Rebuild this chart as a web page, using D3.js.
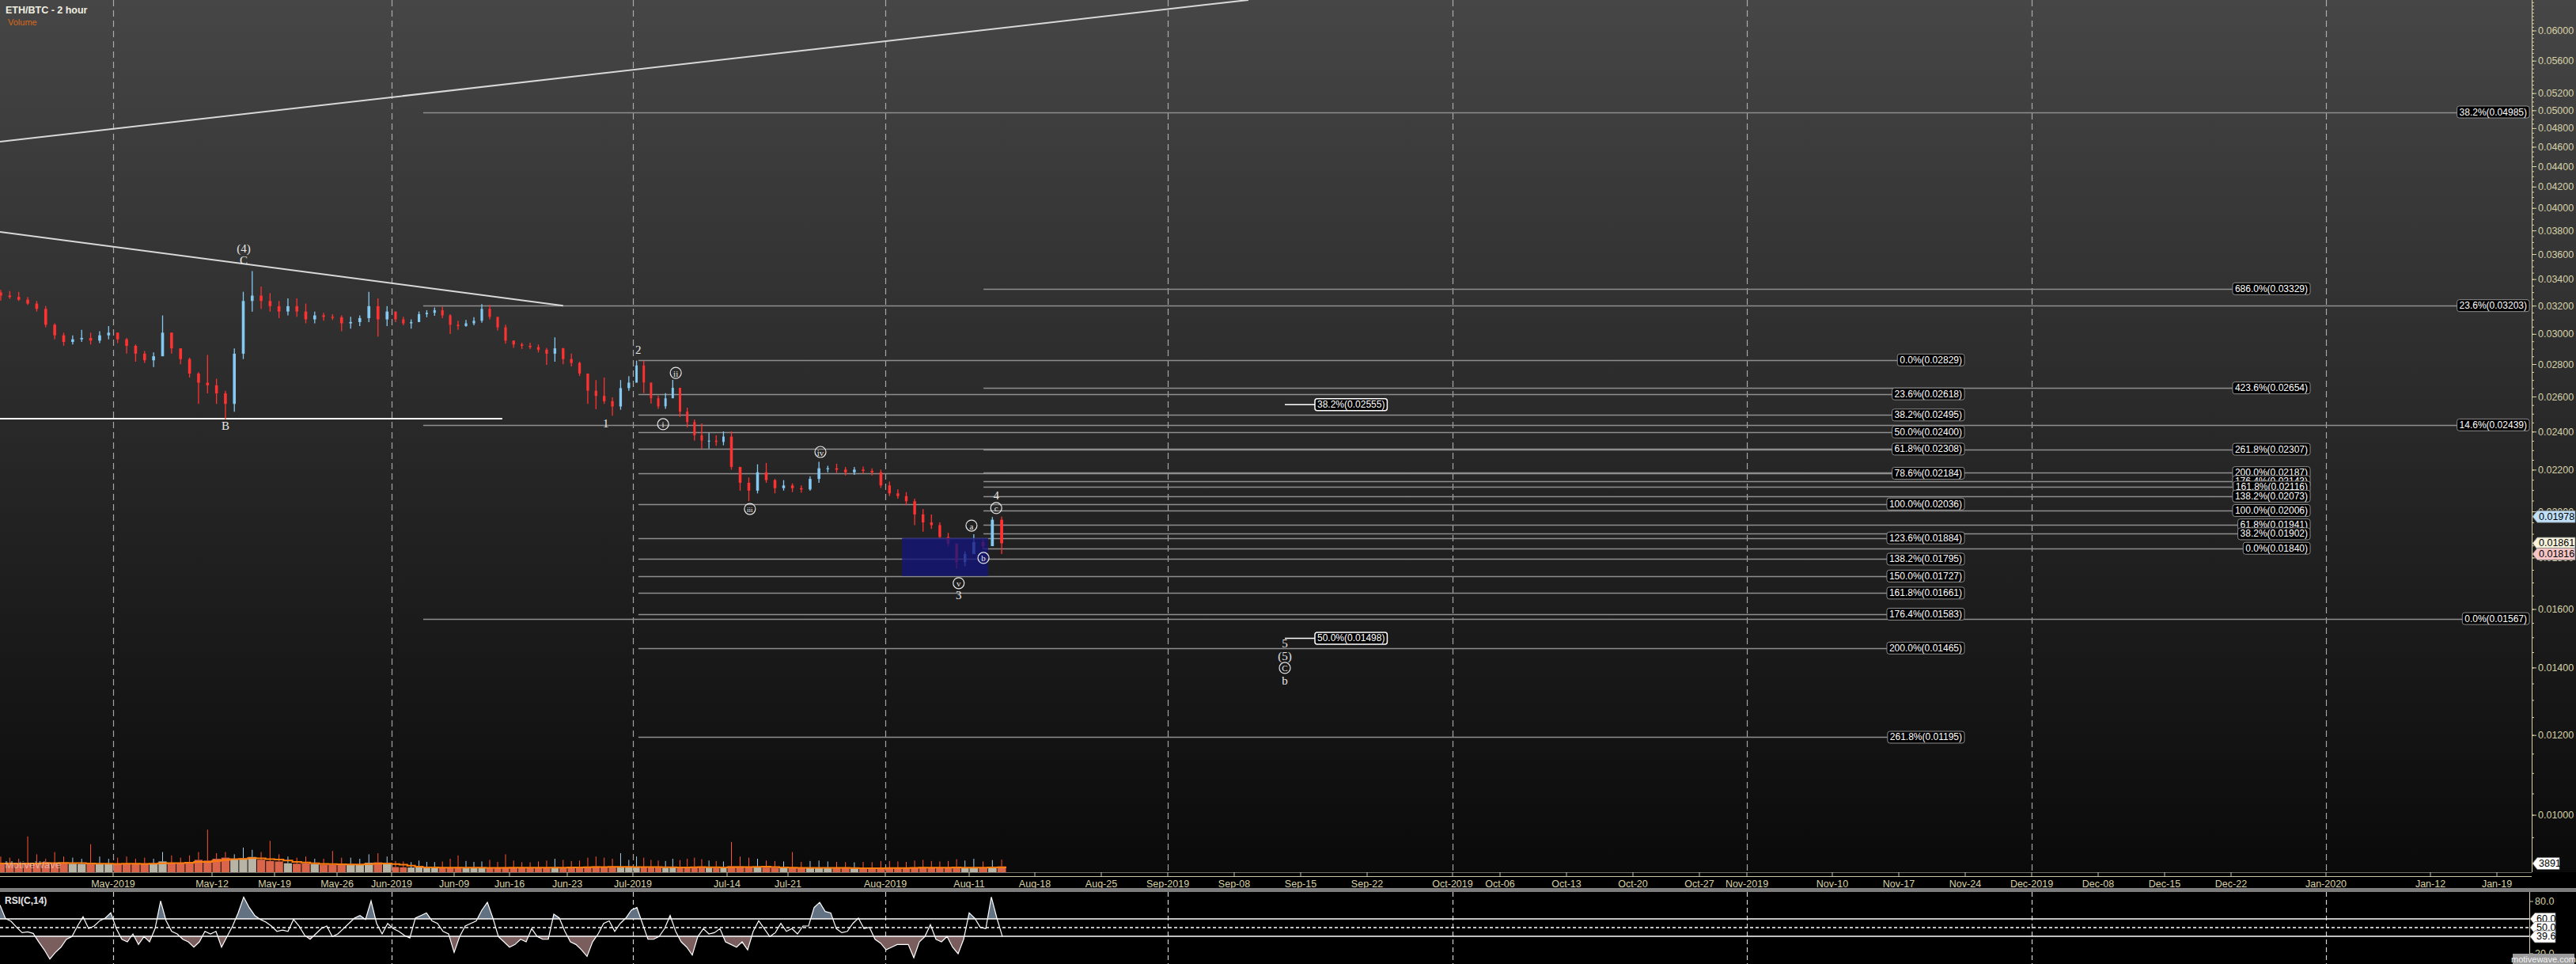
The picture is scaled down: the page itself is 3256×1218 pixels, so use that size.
<!DOCTYPE html>
<html>
<head>
<meta charset="utf-8">
<script src="https://cdn.jsdelivr.net/npm/d3@7/dist/d3.min.js"></script>
<style>
  html, body { margin:0; padding:0; background:#000; overflow:hidden; }
  svg { display:block; font-family: "Liberation Sans", Arial, sans-serif; }
</style>
</head>
<body>
<svg id="chart" width="3256" height="1218"></svg>
<script>
// ================= DATA =================
const chartTitle = "ETH/BTC - 2 hour";
const volumeTitle = "Volume";
const rsiTitle = "RSI(C,14)";

// daily bars (Apr 18 2019 .. Aug 14 2019)
const firstBarDay = "2019-04-18T00:00Z";
const barOpen0 = 0.03300;
const barHigh = [
  0.03320,0.03312,0.03306,0.03267,0.03237,0.03199,0.03076,0.03011,0.02993,0.03030,0.03011,0.03021,0.03057,
  0.03011,0.02975,0.02931,0.02887,0.02878,0.03132,0.03011,0.02905,0.02844,0.02751,0.02861,0.02710,0.02637,0.02905,0.03306,0.03466,0.03346,0.03296,0.03237,0.03257,0.03257,0.03218,0.03160,0.03151,0.03141,0.03132,0.03122,0.03132,0.03306,0.03257,0.03199,
  0.03160,0.03122,0.03104,0.03160,0.03170,0.03189,0.03195,0.03141,0.03094,0.03100,0.03119,0.03214,0.03208,0.03113,0.03066,0.02957,0.02943,0.02943,0.02931,0.02908,0.02979,0.02908,0.02870,0.02818,0.02743,0.02702,0.02718,0.02598,0.02702,0.02727,
  0.02825,0.02823,0.02631,0.02607,0.02623,0.02703,0.02599,0.02537,0.02470,0.02447,0.02396,0.02382,0.02403,0.02403,0.02202,0.02163,0.02229,0.02236,0.02156,0.02150,0.02134,0.02124,0.02169,0.02242,0.02222,0.02232,0.02216,0.02216,0.02218,0.02209,0.02202,
  0.02143,0.02105,0.02092,0.02061,0.02012,0.01988,0.01952,0.01906,0.01860,0.01827,0.01900,0.01877,0.01976,0.01978
];
const barLow = [
  0.03241,0.03253,0.03237,0.03208,0.03160,0.03048,0.02966,0.02922,0.02931,0.02948,0.02931,0.02940,0.02966,
  0.02940,0.02870,0.02818,0.02810,0.02784,0.02870,0.02870,0.02801,0.02718,0.02559,0.02621,0.02559,0.02471,0.02513,0.02835,0.03160,0.03179,0.03160,0.03113,0.03132,0.03122,0.03076,0.03076,0.03094,0.03100,0.03021,0.03039,0.03057,0.03085,0.02984,0.03057,
  0.03085,0.03063,0.03039,0.03085,0.03119,0.03130,0.03113,0.03002,0.03030,0.03052,0.03063,0.03081,0.03104,0.03026,0.02936,0.02908,0.02901,0.02901,0.02878,0.02798,0.02818,0.02801,0.02788,0.02727,0.02559,0.02528,0.02559,0.02491,0.02525,0.02637,
  0.02720,0.02623,0.02560,0.02530,0.02530,0.02615,0.02484,0.02425,0.02353,0.02311,0.02311,0.02325,0.02328,0.02202,0.02099,0.02049,0.02086,0.02137,0.02086,0.02099,0.02092,0.02089,0.02099,0.02137,0.02189,0.02186,0.02173,0.02176,0.02182,0.02173,0.02111,
  0.02073,0.02061,0.02030,0.01940,0.01911,0.01923,0.01883,0.01849,0.01757,0.01767,0.01844,0.01836,0.01849,0.01816
];
const barClose = [
  0.03277,0.03267,0.03247,0.03218,0.03179,0.03066,0.02993,0.02948,0.02966,0.02975,0.02957,0.02993,0.03011,
  0.02966,0.02922,0.02870,0.02827,0.02853,0.03011,0.02905,0.02835,0.02743,0.02686,0.02670,0.02621,0.02559,0.02870,0.03237,0.03277,0.03237,0.03199,0.03160,0.03199,0.03160,0.03104,0.03132,0.03122,0.03119,0.03076,0.03085,0.03113,0.03199,0.03104,0.03160,
  0.03104,0.03076,0.03085,0.03141,0.03151,0.03170,0.03132,0.03066,0.03057,0.03076,0.03094,0.03179,0.03122,0.03048,0.02957,0.02931,0.02922,0.02913,0.02896,0.02870,0.02905,0.02835,0.02810,0.02743,0.02637,0.02606,0.02575,0.02544,0.02653,0.02686,
  0.02794,0.02687,0.02592,0.02545,0.02592,0.02655,0.02514,0.02455,0.02382,0.02353,0.02353,0.02346,0.02375,0.02216,0.02137,0.02099,0.02189,0.02150,0.02111,0.02124,0.02111,0.02105,0.02156,0.02209,0.02209,0.02202,0.02189,0.02202,0.02196,0.02189,0.02124,
  0.02086,0.02073,0.02049,0.01988,0.01952,0.01940,0.01888,0.01860,0.01783,0.01816,0.01866,0.01849,0.01964,0.01861
];
// typical 2h volume per day and the largest 2h spike of that day
const volAvg = [
  3900,3800,3700,4200,3900,4500,4200,4000,3800,3700,3900,3800,3700,
  3600,3800,3900,3700,3800,4800,4200,4000,4300,5500,5200,6000,6500,5800,6200,6800,5600,5000,4800,4000,3800,3900,3600,3400,3300,3500,3600,3400,4200,4400,3800,
  2300,2200,2100,2200,2000,1900,2000,2100,2200,1900,1800,2000,1900,2000,2200,2100,2000,1900,2000,2100,2200,2100,2000,2100,2500,2600,2400,2300,2300,2200,
  2500,2400,2200,2100,2000,2200,2100,2300,2400,2300,2100,2000,1900,2700,2600,2500,2300,2100,2000,1900,1900,1800,2000,2100,1900,1800,1800,1700,1800,1800,1900,
  2000,1900,1800,2100,2200,2000,1900,2000,2300,2100,2000,1900,2100,2600
];
const volMax = [
  7000,6500,6000,16000,8000,6000,9000,7000,6500,6000,12500,7000,6000,
  6500,7000,6000,6500,6000,9000,7500,6500,7500,9000,19000,8500,9000,8000,11000,10000,9000,14000,8000,7000,6500,7000,6000,6000,9500,6500,6500,6000,8000,8500,7000,
  5000,4800,4500,5200,4600,4500,4800,6000,7500,5000,4600,4800,5500,4600,8000,5200,4500,4400,4800,5200,6000,5500,5000,5200,6500,7000,6500,6000,8500,5500,
  7000,6500,5500,5200,5000,6000,5400,6000,6500,5800,5200,5000,4800,13500,7000,6500,6000,5200,5000,4800,9000,4600,5000,5200,4800,4600,4500,4400,4600,4500,5000,
  5000,4800,4600,5200,5500,5000,4800,5000,5800,5200,6000,4800,5400,5600
];
const volLastValue = 3891;

// RSI(14), evenly spaced over the data span
const rsiStart = "2019-04-18T10:00Z";
const rsiEnd = "2019-08-14T14:00Z";
const rsiValues = [
  76.0,60.3,57.2,50.3,44.2,45.1,43.3,33.6,24.5,13.9,21.5,27.5,36.6,39.7,51.8,62.4,48.8,51.8,57.8,60.9,
  66.9,48.8,36.6,33.6,42.7,30.6,39.7,33.6,48.8,80.6,57.8,45.7,42.7,36.6,33.6,27.5,33.6,45.7,42.7,45.7,
  27.5,39.7,51.8,66.9,85.1,73.0,63.9,59.4,56.3,51.8,45.7,47.2,45.7,59.4,51.8,41.2,36.6,42.7,48.8,51.8,
  39.7,42.7,48.8,54.8,60.9,63.9,59.4,80.6,54.8,42.7,54.8,48.8,45.7,41.2,38.1,60.9,63.9,66.9,57.8,54.8,
  45.7,42.7,21.5,39.7,51.8,54.8,57.8,70.0,79.0,60.9,39.7,33.6,27.5,30.6,36.6,33.6,48.8,39.7,36.6,36.6,
  65.4,60.9,45.7,33.6,30.6,24.5,16.9,33.6,42.7,54.8,57.8,45.7,54.8,60.9,70.0,73.0,54.8,36.6,36.6,39.7,
  48.8,63.9,45.7,33.6,27.5,18.4,39.7,48.8,42.7,44.2,48.8,33.6,30.6,27.5,33.6,24.5,45.7,57.8,48.8,39.7,
  44.2,54.8,45.7,48.8,42.7,51.8,51.8,73.0,79.0,68.5,66.9,48.8,44.2,45.7,54.8,60.9,48.8,
  50.3,36.6,32.1,24.5,27.5,30.6,30.6,30.6,15.4,33.6,39.7,53.3,36.6,33.6,39.7,27.5,20.0,36.6,66.9,60.9,
  50.3,48.8,85.1,60.9,39.6
];
const rsiBandValues = [60, 50, 40];
const rsiBandLabels = ["60.0", "50.0", "39.6"];
const rsiTickValues = [80, 20];
const rsiTickLabels = ["80.0", "20.0"];

// axes
const priceTickValues = [0.06,0.056,0.052,0.05,0.048,0.046,0.044,0.042,0.04,0.038,0.036,0.034,0.032,0.03,0.028,0.026,0.024,0.022,0.02,0.018,0.016,0.014,0.012,0.01];
const currentPriceValues = [0.01978, 0.01861, 0.01816];
const currentPriceColors = ["#bfe0f8", "#f6f2dc", "#f6c6c6"];
const dateTickDates = ["2019-05-01","2019-05-12","2019-05-19","2019-05-26","2019-06-01","2019-06-09","2019-06-16","2019-06-23","2019-07-01","2019-07-14","2019-07-21","2019-08-01","2019-08-11","2019-08-18","2019-08-25","2019-09-01","2019-09-08","2019-09-15","2019-09-22","2019-10-01","2019-10-06","2019-10-13","2019-10-20","2019-10-27","2019-11-01","2019-11-10","2019-11-17","2019-11-24","2019-12-01","2019-12-08","2019-12-15","2019-12-22","2020-01-01","2020-01-12","2020-01-19"];
const dateTickLabels = ["May-2019","May-12","May-19","May-26","Jun-2019","Jun-09","Jun-16","Jun-23","Jul-2019","Jul-14","Jul-21","Aug-2019","Aug-11","Aug-18","Aug-25","Sep-2019","Sep-08","Sep-15","Sep-22","Oct-2019","Oct-06","Oct-13","Oct-20","Oct-27","Nov-2019","Nov-10","Nov-17","Nov-24","Dec-2019","Dec-08","Dec-15","Dec-22","Jan-2020","Jan-12","Jan-19"];
const monthStarts = ["2019-05-01","2019-06-01","2019-07-01","2019-08-01","2019-09-01","2019-10-01","2019-11-01","2019-12-01","2020-01-01"];

// bar-index calibration of the time axis (dates with data gaps before the last bar)
const axisDates = ["2019-04-18T10:00Z","2019-05-01T00:00Z","2019-05-12T00:00Z","2019-05-19T00:00Z","2019-05-26T00:00Z","2019-06-01T00:00Z","2019-06-09T00:00Z","2019-06-16T00:00Z","2019-06-23T00:00Z","2019-07-01T00:00Z","2019-07-14T00:00Z","2019-07-21T00:00Z","2019-08-01T00:00Z","2019-08-11T00:00Z","2019-08-14T16:00Z","2020-01-19T00:00Z"];
const axisPx = [0,143,268,347,426,495,574,644,717,800,919,996,1119,1225,1268,3156];

// Fibonacci sets
const fibAPct = ["0.0%","23.6%","38.2%","50.0%","61.8%","78.6%","100.0%","123.6%","138.2%","150.0%","161.8%","176.4%","200.0%","261.8%"];
const fibAPrice = [0.02829,0.02618,0.02495,0.02400,0.02308,0.02184,0.02036,0.01884,0.01795,0.01727,0.01661,0.01583,0.01465,0.01195];
const fibASpan = ["2019-07-01T18:00Z","2019-11-23T22:00Z"];
const fibBPct = ["686.0%","423.6%","261.8%","200.0%","176.4%","161.8%","138.2%","100.0%","61.8%","38.2%","0.0%"];
const fibBPrice = [0.03329,0.02654,0.02307,0.02187,0.02143,0.02116,0.02073,0.02006,0.01941,0.01902,0.01840];
const fibBSpan = ["2019-08-12T13:00Z","2019-12-30T08:00Z"];
const fibCPct = ["38.2%","23.6%","14.6%","0.0%"];
const fibCPrice = [0.04985,0.03203,0.02439,0.01567];
const fibCSpan = ["2019-06-05T01:00Z","2020-01-22T10:00Z"];
const fibDPct = ["38.2%","50.0%"];
const fibDPrice = [0.02555,0.01498];
const fibDSpan = ["2019-09-13T08:00Z","2019-09-16T12:00Z"];

// drawn lines
const trendDown = [["2019-04-18T10:00Z",0.03790],["2019-06-22T12:00Z",0.03203]];
const trendUp = [["2019-04-18T10:00Z",0.04658],["2019-09-09T12:00Z",0.06439]];
const levelB = [["2019-04-18T10:00Z",0.02474],["2019-06-15T02:00Z",0.02474]];
const zoneBox = [["2019-08-03T00:00Z",0.01884],["2019-08-13T01:00Z",0.01727]];

// wave labels
const waveLabels = [
  ["(4)","2019-05-15T13:00Z",0.03649],["C","2019-05-15T13:00Z",0.03551],["B","2019-05-13T12:00Z",0.02434],
  ["1","2019-06-27T17:00Z",0.02447],["2","2019-07-01T18:00Z",0.02895],["3","2019-08-09T18:00Z",0.01652],
  ["4","2019-08-13T22:00Z",0.02075],["5","2019-09-13T08:00Z",0.01480],["(5)","2019-09-13T08:00Z",0.01438],
  ["b","2019-09-13T08:00Z",0.01360]
];
const circledLabels = [
  ["i","2019-07-05T04:00Z",0.02443],["ii","2019-07-06T22:00Z",0.02747],["iii","2019-07-16T15:00Z",0.02013],
  ["iv","2019-07-24T16:00Z",0.02293],["v","2019-08-09T18:00Z",0.01699],["a","2019-08-11T06:00Z",0.01938],
  ["b","2019-08-12T13:00Z",0.01800],["c","2019-08-13T22:00Z",0.02017],["C","2019-09-13T08:00Z",0.01400]
];

// ================= LAYOUT =================
const W = 3256, H = 1218;
const AX = 3200;          // price axis x
const PB = 1102;          // price panel bottom (volume baseline)
const DATE_AXIS = 1107;
const SEP_TOP = 1122, RT = 1127, RB = 1218;
const RSI_AX = 3197;
const P = d3.isoParse;
const tan = "#d6d1a8";

const x = d3.scaleUtc().domain(axisDates.map(P)).range(axisPx);
const y = d3.scaleLog().domain([0.06, 0.01]).range([39, 1030]);
const vy = d3.scaleLinear().domain([0, volLastValue]).range([PB, 1091]);
const ry = d3.scaleLinear().domain([20, 80]).range([1205, 1139]);
const rx = d3.scaleLinear().domain([0, rsiValues.length - 1]).range([x(P(rsiStart)), x(P(rsiEnd))]);

const svg = d3.select("#chart");
const defs = svg.append("defs");
const grad = defs.append("linearGradient").attr("id","bg").attr("x1",0).attr("y1",0).attr("x2",0).attr("y2",1);
grad.append("stop").attr("offset","0%").attr("stop-color","#464646");
grad.append("stop").attr("offset","100%").attr("stop-color","#0a0a0a");
defs.append("clipPath").attr("id","plotClip").append("rect").attr("x",0).attr("y",0).attr("width",AX).attr("height",PB);
defs.append("clipPath").attr("id","rsiUp").append("rect").attr("x",0).attr("y",RT).attr("width",RSI_AX).attr("height",ry(60)-RT);
defs.append("clipPath").attr("id","rsiDn").append("rect").attr("x",0).attr("y",ry(40)).attr("width",RSI_AX).attr("height",RB-ry(40));
defs.append("clipPath").attr("id","rsiClip").append("rect").attr("x",0).attr("y",RT).attr("width",RSI_AX).attr("height",RB-RT);

svg.append("rect").attr("x",0).attr("y",0).attr("width",W).attr("height",PB).attr("fill","url(#bg)");
svg.append("rect").attr("x",0).attr("y",PB).attr("width",W).attr("height",H-PB).attr("fill","#000");

const plot = svg.append("g").attr("clip-path","url(#plotClip)");

// month dashed lines
monthStarts.forEach(m => {
  const mx = Math.round(x(P(m + "T00:00Z"))) + 0.5;
  plot.append("line").attr("x1",mx).attr("x2",mx).attr("y1",0).attr("y2",PB)
    .attr("stroke","#bdbdbd").attr("stroke-width",1.2).attr("stroke-dasharray","8,5").attr("opacity",0.85);
  svg.append("line").attr("x1",mx).attr("x2",mx).attr("y1",RT).attr("y2",RB)
    .attr("stroke","#cfcfcf").attr("stroke-width",1.2).attr("stroke-dasharray","6,4");
});

// fib lines
function fibLines(prices, span, color, width) {
  prices.forEach(p => {
    const yy = Math.round(y(p)) + 0.5;
    plot.append("line").attr("x1",x(P(span[0]))).attr("x2",x(P(span[1]))).attr("y1",yy).attr("y2",yy)
      .attr("stroke",color).attr("stroke-width",width);
  });
}
fibLines(fibCPrice, fibCSpan, "#8e8e8e", 1.3);
fibLines(fibAPrice, fibASpan, "#8e8e8e", 1.3);
fibLines(fibBPrice, fibBSpan, "#8e8e8e", 1.3);
fibDPrice.forEach(p => {
  plot.append("line").attr("x1",x(P(fibDSpan[0]))).attr("x2",x(P(fibDSpan[1]))).attr("y1",y(p)).attr("y2",y(p))
    .attr("stroke","#ffffff").attr("stroke-width",1.5);
});

// trend lines
[trendDown, trendUp].forEach(t => {
  plot.append("line").attr("x1",x(P(t[0][0]))).attr("y1",y(t[0][1])).attr("x2",x(P(t[1][0]))).attr("y2",y(t[1][1]))
    .attr("stroke","#d8d8d8").attr("stroke-width",2);
});
plot.append("line").attr("x1",x(P(levelB[0][0]))).attr("y1",y(levelB[0][1])).attr("x2",x(P(levelB[1][0]))).attr("y2",y(levelB[1][1]))
  .attr("stroke","#ffffff").attr("stroke-width",2);

// bars
const d0 = P(firstBarDay);
const bars = barClose.map((c, i) => {
  const day = d3.utcDay.offset(d0, i);
  return { day, o: i ? barClose[i-1] : barOpen0, h: barHigh[i], l: barLow[i], c, va: volAvg[i], vm: volMax[i] };
});
const UP = "#84c9f2", DOWN = "#ff3131";

// volume
const volG = plot.append("g");
bars.forEach(b => {
  const x0 = x(b.day), x1 = x(d3.utcDay.offset(b.day, 1)), cx = (x0 + x1) / 2;
  const up = b.c >= b.o;
  volG.append("rect").attr("x",x0+0.5).attr("y",vy(b.va)).attr("width",Math.max(1,x1-x0-1)).attr("height",PB-vy(b.va))
    .attr("fill", up ? "#b8b5a7" : "#d9654a");
  volG.append("line").attr("x1",cx).attr("x2",cx).attr("y1",vy(b.vm)).attr("y2",vy(b.va))
    .attr("stroke", up ? "#a6cde8" : "#ff5436").attr("stroke-width",1);
});
const ma = volAvg.map((v, i) => d3.mean(volAvg.slice(Math.max(0, i - 4), i + 1)));
const maPts = [];
bars.forEach((b, i) => { maPts.push([x(b.day), vy(ma[i])]); maPts.push([x(d3.utcDay.offset(b.day,1)), vy(ma[i])]); });
volG.append("path").attr("d", d3.line()(maPts)).attr("fill","none").attr("stroke","#ff7d0a").attr("stroke-width",2);
volG.append("text").attr("x",6).attr("y",1097).text("MotiveWave").attr("font-size",13).attr("fill","#ffffff").attr("opacity",0.45);

// candles (thin bars, like the source's dense 2h bars)
const candleG = plot.append("g");
bars.forEach(b => {
  const x0 = x(b.day), x1 = x(d3.utcDay.offset(b.day, 1)), cx = (x0 + x1) / 2;
  const up = b.c >= b.o;
  const col = up ? UP : DOWN;
  const bw = Math.max(2, (x1 - x0) * 0.32);
  candleG.append("line").attr("x1",cx).attr("x2",cx).attr("y1",y(b.h)).attr("y2",y(b.l)).attr("stroke",col).attr("stroke-width",1.3);
  const top = y(Math.max(b.o, b.c)), bot = y(Math.min(b.o, b.c));
  candleG.append("rect").attr("x",cx - bw/2).attr("y",top).attr("width",bw).attr("height",Math.max(1.2, bot - top)).attr("fill",col);
});

// zone box
plot.append("rect").attr("x",x(P(zoneBox[0][0]))).attr("y",y(zoneBox[0][1]))
  .attr("width",x(P(zoneBox[1][0])) - x(P(zoneBox[0][0]))).attr("height",y(zoneBox[1][1]) - y(zoneBox[0][1]))
  .attr("fill","#15157c").attr("opacity",0.78);

// label boxes
function labelBox(parent, txt, xPos, yPos, o) {
  const g = parent.append("g");
  const rect = g.append("rect");
  const t = g.append("text").text(txt).attr("font-size", o.size || 12).attr("fill", o.color || "#ffffff")
    .attr("dominant-baseline","central").attr("y", yPos);
  const w = t.node().getComputedTextLength();
  const pad = 3, bw = w + 2*pad, bh = 15;
  const bx = o.anchor === "end" ? xPos - bw : xPos;
  t.attr("x", bx + pad);
  rect.attr("x",bx).attr("y",yPos - bh/2).attr("width",bw).attr("height",bh).attr("rx",3)
    .attr("fill", o.fill || "#000").attr("stroke", o.stroke || "#8c8c8c").attr("stroke-width", o.sw || 1);
}
const labG = svg.append("g");
fibAPct.forEach((p, i) => labelBox(labG, `${p}(${fibAPrice[i].toFixed(5)})`, x(P(fibASpan[1])), y(fibAPrice[i]), {anchor:"end"}));
fibBPct.forEach((p, i) => labelBox(labG, `${p}(${fibBPrice[i].toFixed(5)})`, x(P(fibBSpan[1])), y(fibBPrice[i]), {anchor:"end"}));
fibCPct.forEach((p, i) => labelBox(labG, `${p}(${fibCPrice[i].toFixed(5)})`, RSI_AX, y(fibCPrice[i]), {anchor:"end"}));
fibDPct.forEach((p, i) => labelBox(labG, `${p}(${fibDPrice[i].toFixed(5)})`, x(P(fibDSpan[1])), y(fibDPrice[i]), {anchor:"start", stroke:"#ffffff", sw:1.5}));

// wave labels
const serif = "'Liberation Serif', 'DejaVu Serif', Times, serif";
waveLabels.forEach(([t, d, p]) => {
  labG.append("text").attr("x", x(P(d))).attr("y", y(p)).text(t).attr("font-family", serif).attr("font-size",15)
    .attr("fill","#e6e6e6").attr("text-anchor","middle").attr("dominant-baseline","central");
});
circledLabels.forEach(([t, d, p]) => {
  const cx = x(P(d)), cy = y(p);
  labG.append("circle").attr("cx",cx).attr("cy",cy).attr("r",7).attr("fill","none").attr("stroke","#e6e6e6").attr("stroke-width",1.2);
  labG.append("text").attr("x",cx).attr("y",cy+0.5).text(t).attr("font-family", serif).attr("font-size", t.length > 2 ? 9 : 11)
    .attr("fill","#e6e6e6").attr("text-anchor","middle").attr("dominant-baseline","central");
});

// titles
svg.append("text").attr("x",7).attr("y",17).text(chartTitle).attr("font-size",12.5).attr("font-weight","bold").attr("fill","#f0eee0");
svg.append("text").attr("x",10).attr("y",32).text(volumeTitle).attr("font-size",11).attr("fill","#d8681a");

// price axis
const axG = svg.append("g");
axG.append("line").attr("x1",AX+0.5).attr("x2",AX+0.5).attr("y1",0).attr("y2",PB).attr("stroke",tan).attr("stroke-width",1);
d3.range(0.0095, 0.0645, 0.0005).forEach(v => {
  const yy = y(v);
  if (yy > 0 && yy < PB) axG.append("line").attr("x1",AX).attr("x2",AX+3).attr("y1",yy).attr("y2",yy).attr("stroke",tan).attr("stroke-width",1);
});
priceTickValues.forEach(v => {
  axG.append("line").attr("x1",AX).attr("x2",AX+6).attr("y1",y(v)).attr("y2",y(v)).attr("stroke",tan);
  axG.append("text").attr("x",AX+8).attr("y",y(v)).text(d3.format(".5f")(v)).attr("font-size",12.5)
    .attr("fill",tan).attr("dominant-baseline","central");
});
function pointer(parent, txt, xTip, yPos, fill, width) {
  const h = 15;
  parent.append("path").attr("d", `M${xTip},${yPos} L${xTip+6},${yPos-h/2} L${xTip+width},${yPos-h/2} L${xTip+width},${yPos+h/2} L${xTip+6},${yPos+h/2} Z`)
    .attr("fill", fill).attr("stroke","#777").attr("stroke-width",0.8);
  parent.append("text").attr("x", xTip+8).attr("y", yPos).text(txt).attr("font-size",12.5).attr("fill","#000")
    .attr("dominant-baseline","central");
}
currentPriceValues.forEach((v, i) => pointer(axG, v.toFixed(5), AX+1, y(v), currentPriceColors[i], 54));
pointer(axG, String(volLastValue), AX+1, vy(volLastValue), "#ffffff", 34);

// date axis
const dG = svg.append("g");
dG.append("line").attr("x1",0).attr("x2",AX).attr("y1",PB+0.5).attr("y2",PB+0.5).attr("stroke","#6e6e66");
dG.append("line").attr("x1",0).attr("x2",AX).attr("y1",DATE_AXIS+0.5).attr("y2",DATE_AXIS+0.5).attr("stroke","#c9c5a6").attr("stroke-width",1.2);
dateTickDates.forEach((d, i) => {
  const tx = x(P(d + "T00:00Z"));
  dG.append("line").attr("x1",tx).attr("x2",tx).attr("y1",PB).attr("y2",DATE_AXIS).attr("stroke","#c9c5a6");
  dG.append("text").attr("x",tx).attr("y",1117).text(dateTickLabels[i]).attr("font-size",12.5).attr("fill",tan)
    .attr("text-anchor","middle").attr("dominant-baseline","central");
});
svg.append("rect").attr("x",0).attr("y",SEP_TOP).attr("width",W).attr("height",RT-SEP_TOP).attr("fill","#7c7c7c");

// RSI panel
const rG = svg.append("g");
const areaUp = d3.area().x((d,i) => rx(i)).y0(ry(60)).y1(d => ry(d));
const areaDn = d3.area().x((d,i) => rx(i)).y0(ry(40)).y1(d => ry(d));
rG.append("path").attr("d", areaUp(rsiValues)).attr("fill","#627283").attr("clip-path","url(#rsiUp)");
rG.append("path").attr("d", areaDn(rsiValues)).attr("fill","#7a5e5e").attr("clip-path","url(#rsiDn)");
rsiBandValues.forEach(v => {
  rG.append("line").attr("x1",0).attr("x2",RSI_AX).attr("y1",ry(v)).attr("y2",ry(v)).attr("stroke","#ffffff")
    .attr("stroke-width",1.6).attr("stroke-dasharray", v === 50 ? "4,3" : null);
});
rG.append("path").attr("d", d3.line().x((d,i) => rx(i)).y(d => ry(d))(rsiValues)).attr("fill","none")
  .attr("stroke","#ffffff").attr("stroke-width",1.2).attr("clip-path","url(#rsiClip)");
rG.append("text").attr("x",6).attr("y",1142).text(rsiTitle).attr("font-size",12).attr("font-weight","bold").attr("fill","#e8e8e8");
rG.append("line").attr("x1",RSI_AX+0.5).attr("x2",RSI_AX+0.5).attr("y1",RT).attr("y2",RB).attr("stroke",tan);
rsiTickValues.forEach((v, i) => {
  rG.append("line").attr("x1",RSI_AX).attr("x2",RSI_AX+5).attr("y1",ry(v)).attr("y2",ry(v)).attr("stroke",tan);
  rG.append("text").attr("x",RSI_AX+7).attr("y",ry(v)).text(rsiTickLabels[i]).attr("font-size",12.5).attr("fill",tan)
    .attr("dominant-baseline","central");
});
pointer(rG, rsiBandLabels[0], RSI_AX+1, ry(rsiBandValues[0]), "#ffffff", 32);
pointer(rG, rsiBandLabels[1], RSI_AX+1, ry(rsiBandValues[1]), "#ffffff", 32);
pointer(rG, rsiBandLabels[2], RSI_AX+1, ry(rsiValues[rsiValues.length-1]), "#ffffff", 32);

// watermark
svg.append("rect").attr("x",3176).attr("y",1205).attr("width",78).attr("height",13).attr("fill","#9d9d9d");
svg.append("text").attr("x",3215).attr("y",1212).text("motivewave.com").attr("font-size",11).attr("fill","#f2f2f2")
  .attr("text-anchor","middle").attr("dominant-baseline","central");
</script>
</body>
</html>
